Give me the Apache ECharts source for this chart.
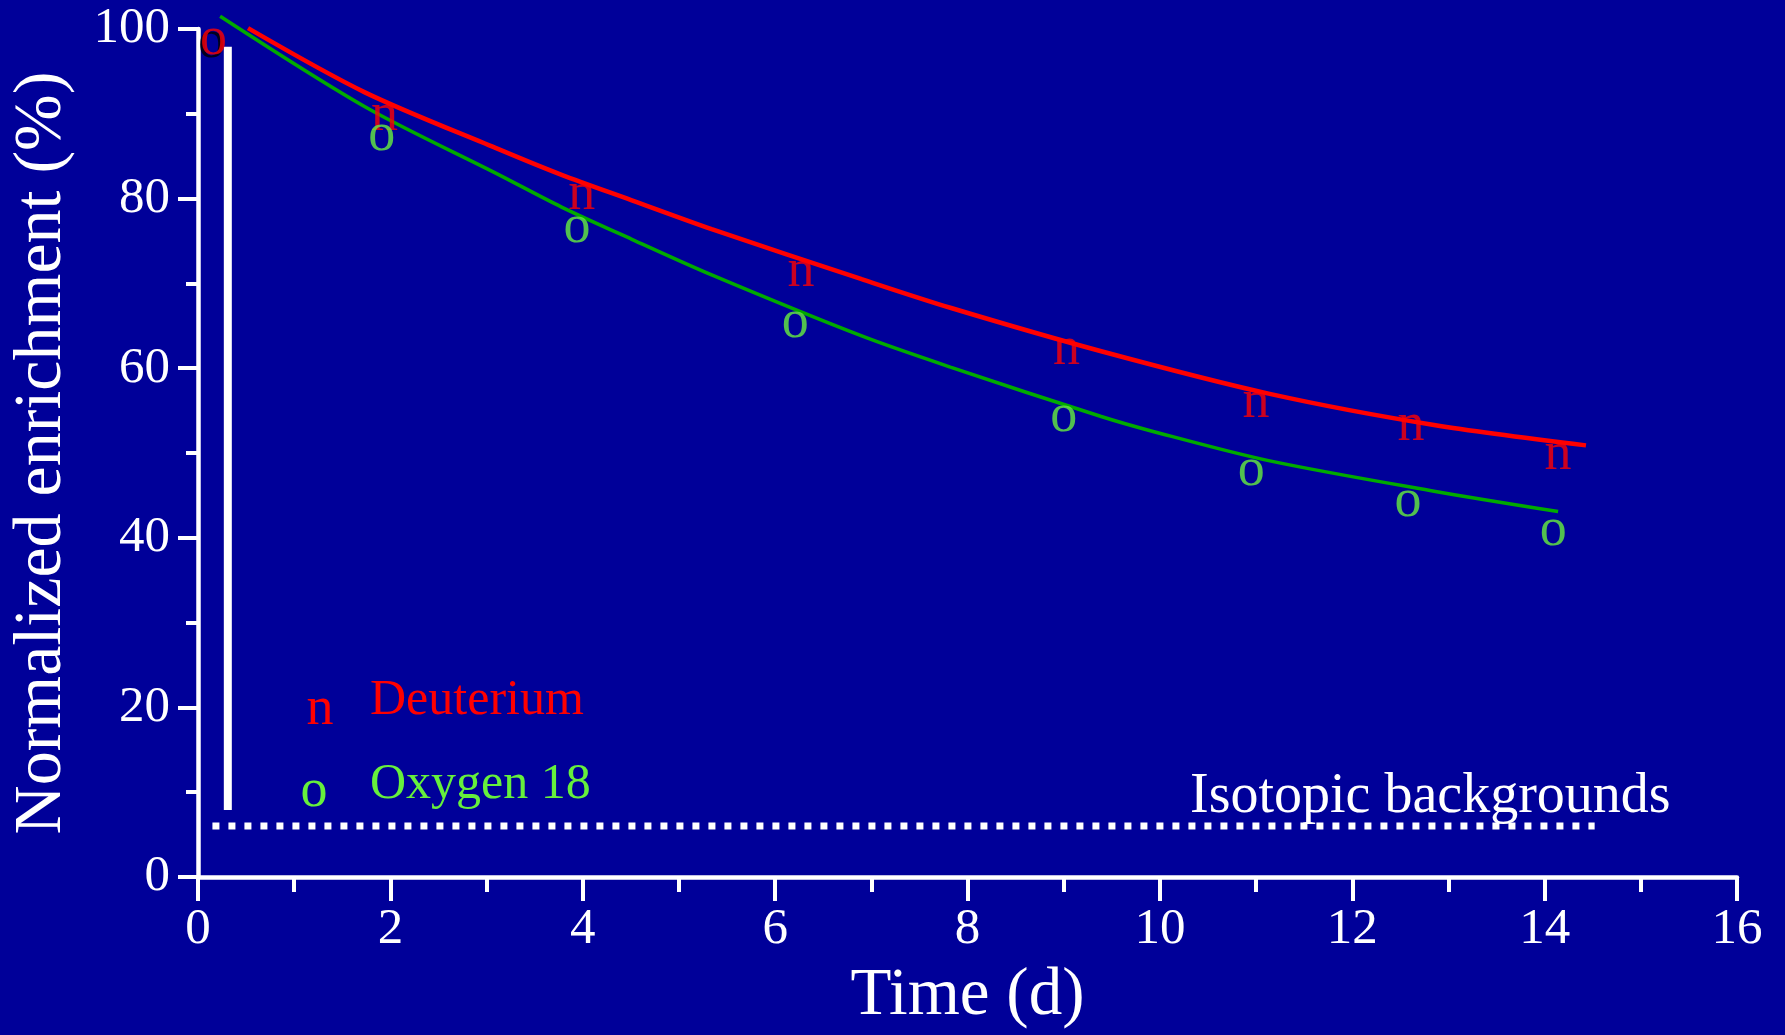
<!DOCTYPE html>
<html>
<head>
<meta charset="utf-8">
<script src="https://cdn.jsdelivr.net/npm/echarts@6/dist/echarts.min.js"></script>
<style>
  html, body { margin: 0; padding: 0; background: #000099; }
  #main { width: 1785px; height: 1035px; }
</style>
</head>
<body>
<div id="main"></div>
<script>
var FONT = '"Liberation Serif", "DejaVu Serif", serif';

// measured points (time in days, normalized enrichment in %)
var deutT = [1.94, 3.99, 6.27, 9.03, 11.0, 12.61, 14.14];
var deutY = [89.7, 80.3, 71.3, 62.0, 55.8, 53.1, 49.7];
var oxyT = [1.91, 3.94, 6.21, 9.0, 10.95, 12.58, 14.09];
var oxyY = [87.3, 76.4, 65.2, 54.2, 47.8, 44.1, 40.7];
var startT = [0.16];
var startY = [98.6];

// fitted curves
var deutFitT = [0.52, 1.74, 3.13, 3.78, 4.51, 5.34, 6.90, 7.83, 9.39, 11.13, 12.85, 14.43];
var deutFitY = [100.1, 92.5, 85.8, 82.8, 79.8, 76.4, 70.5, 67.1, 62.0, 57.0, 53.3, 50.9];
var oxyFitT = [0.23, 1.74, 3.13, 3.78, 4.51, 5.34, 6.90, 7.83, 9.39, 9.91, 11.13, 12.85, 14.14];
var oxyFitY = [101.5, 90.8, 82.8, 79.0, 75.2, 71.0, 63.8, 60.1, 54.3, 52.6, 49.1, 45.5, 43.1];

// dose bar and isotopic background level
var doseT = [0.31, 0.31];
var doseY = [97.9, 7.9];
var bgT = [0.15, 14.52];
var bgY = [6.0, 6.0];

function pairs(xs, ys) {
  return xs.map(function (x, i) { return [x, ys[i]]; });
}

function glyphSeries(name, xs, ys, glyph, color, offset, z) {
  return {
    name: name,
    type: 'scatter',
    data: pairs(xs, ys),
    symbolSize: 1,
    itemStyle: { color: 'rgba(0,0,0,0)' },
    label: {
      show: true,
      position: 'inside',
      formatter: glyph,
      color: color,
      fontFamily: FONT,
      fontSize: 54,
      offset: offset || [0, -1]
    },
    z: z || 5
  };
}

function fitSeries(name, xs, ys, color, width) {
  return {
    name: name, type: 'line', data: pairs(xs, ys),
    smooth: 0.3, showSymbol: false, clip: false,
    lineStyle: { color: color, width: width }, z: 3
  };
}

var myChart = echarts.init(document.getElementById('main'));

var axisText = { color: '#fff', fontFamily: FONT, fontSize: 51 };

var option = {
  backgroundColor: '#000099',
  animation: false,
  grid: { left: 196, right: 48, top: 29, bottom: 155 },
  xAxis: {
    type: 'value',
    min: 0, max: 16, interval: 2,
    name: 'Time (d)',
    nameLocation: 'middle',
    nameGap: 86,
    nameTextStyle: { color: '#fff', fontFamily: FONT, fontSize: 67 },
    axisLine: { lineStyle: { color: '#fff', width: 4.5 } },
    axisTick: { length: 24, lineStyle: { color: '#fff', width: 4 } },
    minorTick: { show: true, splitNumber: 2, length: 15, lineStyle: { color: '#fff', width: 4 } },
    axisLabel: Object.assign({ margin: 27 }, axisText),
    splitLine: { show: false }
  },
  yAxis: {
    type: 'value',
    min: 0, max: 100, interval: 20,
    name: 'Normalized enrichment (%)',
    nameLocation: 'middle',
    nameGap: 122,
    nameRotate: 90,
    nameTextStyle: { color: '#fff', fontFamily: FONT, fontSize: 68 },
    axisLine: { lineStyle: { color: '#fff', width: 4.5 } },
    axisTick: { length: 20, lineStyle: { color: '#fff', width: 4 } },
    minorTick: { show: true, splitNumber: 2, length: 12, lineStyle: { color: '#fff', width: 4 } },
    axisLabel: Object.assign({ margin: 28 }, axisText),
    splitLine: { show: false }
  },
  series: [
    fitSeries('Deuterium fit', deutFitT, deutFitY, '#ff0000', 4.5),
    fitSeries('Oxygen 18 fit', oxyFitT, oxyFitY, '#00aa00', 3.5),
    {
      name: 'dose', type: 'line', data: pairs(doseT, doseY),
      showSymbol: false, clip: false,
      lineStyle: { color: '#fff', width: 8, cap: 'butt' }
    },
    {
      name: 'background', type: 'line', data: pairs(bgT, bgY),
      showSymbol: false, clip: false,
      lineStyle: { color: '#fff', width: 7, type: [7, 9], cap: 'butt' }
    },
    glyphSeries('Deuterium', deutT, deutY, 'n', '#ff0000'),
    glyphSeries('Oxygen 18', oxyT, oxyY, 'o', '#66f03c'),
    // first point: red "o" over a black one
    glyphSeries('start shadow', startT, startY, 'o', '#000000', [-2, 2], 4),
    glyphSeries('start', startT, startY, 'o', '#ff0000', [0, -1], 6)
  ],
  graphic: [
    { type: 'text', x: 320, y: 710, style: { text: 'n', fill: '#ff0000', fontFamily: FONT, fontSize: 54, align: 'center', verticalAlign: 'middle' } },
    { type: 'text', x: 370, y: 701, style: { text: 'Deuterium', fill: '#ff0000', fontFamily: FONT, fontSize: 50, align: 'left', verticalAlign: 'middle' } },
    { type: 'text', x: 314, y: 792, style: { text: 'o', fill: '#66f03c', fontFamily: FONT, fontSize: 54, align: 'center', verticalAlign: 'middle' } },
    { type: 'text', x: 370, y: 785, style: { text: 'Oxygen 18', fill: '#66f03c', fontFamily: FONT, fontSize: 50, align: 'left', verticalAlign: 'middle' } },
    { type: 'text', x: 1190, y: 797, style: { text: 'Isotopic backgrounds', fill: '#fff', fontFamily: FONT, fontSize: 56, align: 'left', verticalAlign: 'middle' } }
  ]
};

myChart.setOption(option);
</script>
</body>
</html>
